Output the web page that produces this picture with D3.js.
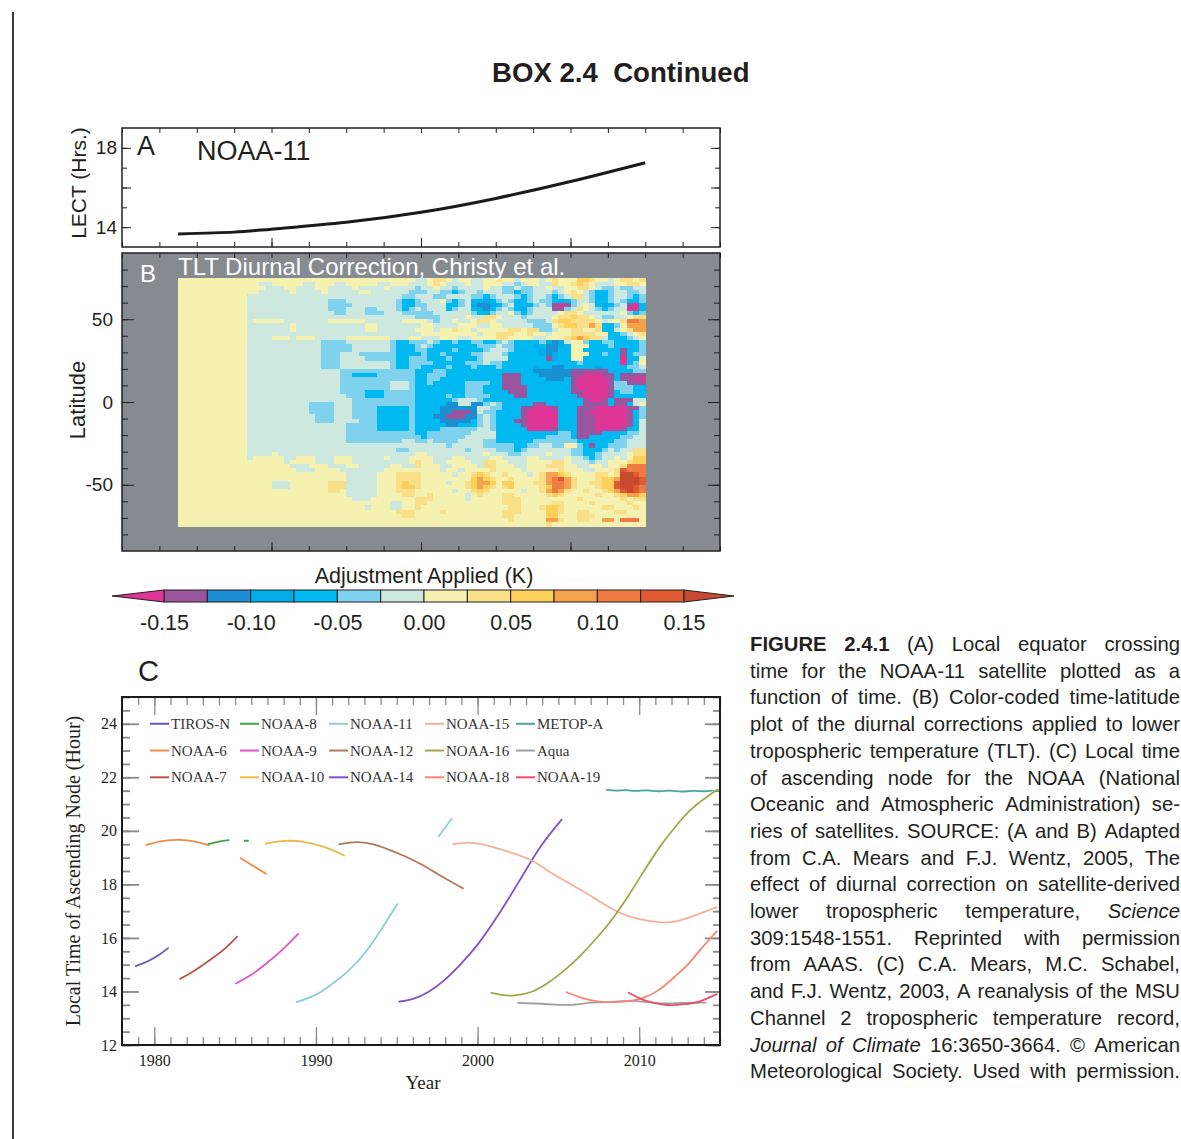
<!DOCTYPE html>
<html>
<head>
<meta charset="utf-8">
<script src="https://cdn.jsdelivr.net/npm/d3@7"></script>
<style>
  body { margin: 0; background: #fff; }
  svg { display: block; }
</style>
</head>
<body>
<svg id="fig" width="1181" height="1139"></svg>
<script>
// ---------------- Panel A: local equator crossing time of NOAA-11 ----------------
const lectYear = [1988.75, 1989.5, 1990.0, 1991.0, 1992.0, 1993.0, 1994.0, 1995.0];
const lectHour = [13.66, 13.75, 13.9, 14.25, 14.75, 15.45, 16.3, 17.25];
const lectTickLabels = [14, 18];

// ---------------- Panel B: TLT diurnal adjustment, month x 2.5 deg latitude ----------------
const latTickLabels = [-50, 0, 50];
const adjBreaks = [-0.15, -0.125, -0.10, -0.075, -0.05, -0.025, 0, 0.025, 0.05, 0.075, 0.10, 0.125, 0.15];
const adjCodes = "abcdefghijklmn";          // a: below -0.15 ... n: above 0.15
const adjColors = ["#de3597", "#9a559f", "#1a8fd2", "#00aeea", "#00b9f0", "#7ed2ee", "#cde8df",
                   "#f5f1b1", "#f8df88", "#fdd05a", "#f6a14b", "#ef7a44", "#e05a31", "#c8492f"];
const adjTickValues = [-0.15, -0.10, -0.05, 0, 0.05, 0.10, 0.15];
const adjTickLabels = ["-0.15", "-0.10", "-0.05", "0.00", "0.05", "0.10", "0.15"];
const tltFirstMonth = 1988.75;   // October 1988
const tltLatTop = 75;
const tltLatStep = 2.5;
// one row per latitude band (75N southwards), one character per month
const tltRows = [
 ["hhhhhhhhhhh","hhhhhhhhhhhhhhhhhhhhhhhhhhh","gghiihghhgghhihhghhhghihhhjjihhghiihi"],
 ["hhhhhhhhhhh","hhgghhhhhgghhhgghhhhhgghhhg","gghihggghgghhhggfghhggihhijihggghhiih"],
 ["hhhhhhhhhhh","hhhggghhggghhgggghgggghgggg","fgghggfgggghggffgffgghgghhiihgffgffgg"],
 ["hhhhhhhhhhh","hhggggghgggghggggghhggggggf","ffggffefggfgggffeffgggfghihgfeefggffg"],
 ["hhhhhhhhhhh","gggggggggggggggggggggggggff","gggffggggffefgggfefggfefgiigfeefggfef"],
 ["hhhhhhhhhhh","gggggggggggggfffggggggggfee","fggghfefgeedefgfeefgffedefggfeefgfeef"],
 ["hhhhhhhhhhh","gggggggggggggffffgggggggfee","ffgggeefgdccdefgeeefgfbabfghgedefgbae"],
 ["hhhhhhhhhhh","gggggggggggggfffgggffgggfef","gfgggefggedcefgfedfgggbbfgihgfefggaae"],
 ["hhhhhhhhhhh","ggggggggggggggffgggfffgggff","fffggggggfeefgghfefgggghiihgggggghfef"],
 ["hhhhhhhhhhh","ggggggggggggggggggggggggggg","ffffgggghggiihgggfgggghiijiihgffgghii"],
 ["hhhhhhhhhhh","ghhhhhggggggghhhhhhgggggghh","hhgfgghgghiihgggggfffgijjiiiihghhillk"],
 ["hhhhhhhhhhh","ggggggghggggggggggghhgggggg","ghhgggghhhgghhgggggfffhijjiikieefhkkk"],
 ["hhhhhhhhhhh","ggggggghggggggggggghhgggggg","hhhghhihhghhhhhiihiiffghhiihhieeghikk"],
 ["hhhhhhhhhhh","ggggggggggggggggggggggggggg","ghhhhhhhhhghhiiihhihhghhhiiiihheefghi"],
 ["hhhhhhhhhhh","gggghhhghhhggggghhhhhhhgggh","hggghhhgghhhhiihhhhgghhhijkjiigeeefgh"],
 ["hhhhhhhhhhh","ggggggggggggffffgggggggfeef","ffgfeefeeffeefgfeeeefdcdghhfeeffeeeef"],
 ["hhhhhhhhhhh","ggggggggggggfffffggggggfeee","fgfeeeeeeefffgffeeedeccdehhheeefeeeef"],
 ["hhhhhhhhhhh","ggggggggggggfffffggggggfeee","ffeeeefeeeefgggfeeeedcceehheeeeeebeef"],
 ["hhhhhhhhhhh","ggggggggggggfffgggffffffeee","efeefeeeeffgggfeeeeedcdeehhheefeebeff"],
 ["hhhhhhhhhhh","ggggggggggggfffggggfffffeef","ffeeefeeeefggggeeeeeebdeehheeeeeeaeeh"],
 ["hhhhhhhhhhh","ggggggggggggfffggggggggfeef","fffeeeeefffgffeeeeeeeeeeeefeeeeeeaefh"],
 ["hhhhhhhhhhh","ggggggggggggfffggggggggfeef","feeeefeeefeeefeeeeedeecceeeeedeeeeffg"],
 ["hhhhhhhhhhh","gggggggggggggggffffffffffff","eeeffeeeeeeeeeeeeeeccccccbbbbbbeeeeff"],
 ["hhhhhhhhhhh","gggggggggggggggffeeeeffffff","eefffeeeeeeeeebbbeeecccccbbaaabbebbbb"],
 ["hhhhhhhhhhh","gggggggggggggggffffffffffff","eeffeeeeeeeeeebbbeeeecccebaaaaabebbaa"],
 ["hhhhhhhhhhh","gggggggggggggggffffffffgggf","eefeeeeeffffeebbbeeeeeeeebaaaaabffbbb"],
 ["hhhhhhhhhhh","gggggggggggggggffffffffgggf","eeeeeeeefffeeebbbbeeeeeeebaaaaabfffee"],
 ["hhhhhhhhhhh","gggggggggggggggffffeeefffff","eeeeeeeefffeeeebbbeeeeeeebbaaaabeffee"],
 ["hhhhhhhhhhh","ggggggggggggggggfffeeefffff","eeeeefeeffffeeeebbeeeeeeeebaaaabeeeee"],
 ["hhhhhhhhhhh","gggggggggggggggggffffffffff","eeeeeefgggfeeeeeeeeeeeeeeeebaabebbbgg"],
 ["hhhhhhhhhhh","ggggggggggffffgggffffffffff","eeeeeccggccfgfeeeeebbeeeeeebbbbebbegh"],
 ["hhhhhhhhhhh","ggggggggggffffgggffffeeeeef","eeeeccccccggffeeebbaaabeeebbbaaaaabbf"],
 ["hhhhhhhhhhh","ggggggggggffffgggffffeeeeef","eeeeccbbbcgffeeeebaaaaaeeebbaaaaaabef"],
 ["hhhhhhhhhhh","gggggggggggfffgggffffeeeeef","eeeccbbbccfgfeeeebaaaaaeeebbbaaaaabef"],
 ["hhhhhhhhhhh","gggggggggggfffggggfffeeeeef","eeeecccccefgfeeebbaaaaaeeebbbaaaaabeg"],
 ["hhhhhhhhhhh","ggggggggggggggggfffffeeeeef","eeeeecceeefgfeeeebaaaaaeeebbbaaaaabeg"],
 ["hhhhhhhhhhh","ggggggggggggggggfffffeeeeef","eeeeffffffggfeeeeeaaaabeeebbbaaaabeeg"],
 ["hhhhhhhhhhh","ggggggggggggggggfffffffffff","eefffffffggggeeeeeeeeeeffebbbbeeeeffg"],
 ["hhhhhhhhhhh","ggggggggggggggggfffffffffff","feffffffgggggeeeeeeeeffffebbeeeeeffgg"],
 ["hhhhhhhhhhh","ggggggggggggggggfffffffffgg","ffgffffggggffeeeeeefffffffeeeeeeffggg"],
 ["hhhhhhhhhhh","ggggggggggggggggggggggggggg","gggggfgggggfffffeeffggffhhfebeefffggg"],
 ["hhhhhhhhhhh","ggggggggggggggggggggggggffg","ggggggggfggggfffefgggggggffeeefgfggii"],
 ["hhhhhhhhhhh","gggghgggggggggggggggggggggg","hhggggggggghgggffgggghgggffeefgggghii"],
 ["hhhhhhhhhhh","ghhhhhgghhhggghhhggggghgggh","hhhggghhgggghhgggghhgggghggfefgghghjj"],
 ["hhhhhhhhhhh","hhhhhhghhhhggghhhgggggggggh","ihhgghhhhggiihhggghhhhiihgggfgghhhijj"],
 ["hhhhhhhhhhh","hhhhhhhggghhhggghhggggghhgg","ihhhgghhhhgiihhhgghhhiiihhgghhghhilll"],
 ["hhhhhhhhhhh","hhhhhhhhggghhhhggggggghhhhh","hhhhghhghhhhihhhhghhhhhihhhgghhhimlll"],
 ["hhhhhhhhhhh","hhhhhhhhhhhhhhhhggggghhhiii","ihhhhhghhijihhihhhghikkjihhhhiihinnml"],
 ["hhhhhhhhhhh","hhhhhhhhhhhhhhhhggggghhhiii","ihhhhhhhhjkjihhihhhhiklmkihhhijjknnnm"],
 ["hhhhhhhhhhh","hhhhggghhhhhhiiiggggghhhiji","ihhhhghhijkkjhjjhhhiikllkihhiijjmnnnm"],
 ["hhhhhhhhhhh","hhhhggghhhhhhiiiggggghhhijj","ihhhhhhhijkjihijhhhhijllkihhhijjmnnml"],
 ["hhhhhhhhhhh","hhhhhhhhhhhhhiihggggghhhiii","hhhhhhghhijihhhhhghhiklkihhihhijkmnml"],
 ["hhhhhhhhhhh","hhhhhhhhhhhhhhhhggggghhhhii","hhihhhhhghihhhiihhhhhijihhhhhihhijkkj"],
 ["hhhhhhhhhhh","hhhhhhhhhhhhhhhhhggghhhhhhh","iiihhhhhghhhhhiiihhhhhhhhhihhhhhhihii"],
 ["hhhhhhhhhhh","hhhhhhhhhhhhhhhhhhhhhhhgghh","iihhhhhhhhhhhhiiihhhhhiihhhhihhhhhihh"],
 ["hhhhhhhhhhh","hhhhhhhhhhhhhhhhhhhghhhgghh","ihhhhhhhhhhhhhhiihhhijjihhhhhhiihhhih"],
 ["hhhhhhhhhhh","hhhhhhhhhhhhhhhhhhhhhhhhiii","hhhhihhhhhhhhhiiihhhhjjihhiihhhhiihhh"],
 ["hhhhhhhhhhh","hhhhhhhhhhhhhhhhhhhhhhhhhii","hhhhhhhhhhhhhhiihhhhhjjhhhiiihhhhhhhh"],
 ["hhhhhhhhhhh","hhhhhhhhhhhhhhhhhhhhhhhhhhh","hhhhhhhhhhhhhhhihhhhhkkihhiihhkkhlllh"],
 ["hhhhhhhhhhh","hhhhhhhhhhhhhhhhhhhhhhhhhhh","hhhhhhhhhhhhhhhhhhhhhihhhhhhhhhhhhhhh"]
];

// ---------------- Panel C: local time of ascending node (year, hour) ----------------
const tirosN  = [[1978.85,14.95],[1979.5,15.1],[1980.2,15.33],[1980.85,15.62]];
const noaa6a  = [[1979.5,19.48],[1980.5,19.62],[1981.6,19.66],[1982.5,19.6],[1983.35,19.47]];
const noaa6b  = [[1985.35,18.98],[1986.1,18.7],[1986.9,18.4]];
const noaa7   = [[1981.6,14.47],[1982.5,14.78],[1983.5,15.2],[1984.4,15.62],[1985.12,16.05]];
const noaa8a  = [[1983.35,19.5],[1984.0,19.6],[1984.6,19.65]];
const noaa8b  = [[1985.6,19.63],[1985.8,19.63]];
const noaa9   = [[1985.05,14.3],[1986.0,14.62],[1987.0,15.08],[1988.0,15.6],[1988.9,16.15]];
const noaa10  = [[1986.9,19.52],[1987.6,19.6],[1988.4,19.63],[1989.3,19.58],[1990.5,19.4],[1991.75,19.08]];
const noaa11a = [[1988.8,13.6],[1990.0,13.88],[1991.0,14.28],[1992.0,14.77],[1993.0,15.42],[1994.0,16.28],[1995.05,17.27]];
const noaa11b = [[1997.6,19.8],[1998.4,20.45]];
const noaa12  = [[1991.45,19.5],[1992.5,19.58],[1993.5,19.5],[1994.5,19.3],[1995.5,19.05],[1996.5,18.75],[1997.5,18.4],[1998.5,18.05],[1999.1,17.85]];
const noaa14  = [[1995.15,13.62],[1996.0,13.72],[1997.0,14.0],[1998.0,14.45],[1999.0,15.05],[2000.0,15.75],[2001.0,16.6],[2002.0,17.55],[2003.0,18.55],[2004.0,19.5],[2005.2,20.42]];
const noaa15  = [[1998.5,19.5],[1999.4,19.56],[2000.5,19.47],[2001.5,19.3],[2002.5,19.1],[2003.4,18.88],[2004.5,18.45],[2005.5,18.1],[2006.5,17.75],[2007.5,17.38],[2008.7,16.97],[2010.0,16.7],[2011.4,16.58],[2012.5,16.65],[2013.5,16.85],[2014.8,17.15]];
const noaa16  = [[2000.85,13.95],[2001.6,13.86],[2002.3,13.85],[2003.3,13.98],[2004.3,14.3],[2005.3,14.75],[2006.3,15.3],[2007.3,15.95],[2008.3,16.68],[2009.3,17.55],[2010.3,18.5],[2011.3,19.42],[2012.3,20.2],[2013.3,20.85],[2014.85,21.55]];
const metopA  = [[2008.0,21.53],[2008.6,21.5],[2009.2,21.52],[2009.8,21.49],[2010.5,21.51],[2011.2,21.48],[2011.9,21.5],[2012.6,21.47],[2013.3,21.49],[2014.0,21.48],[2014.5,21.5]];
const aqua    = [[2002.5,13.57],[2003.5,13.55],[2004.5,13.52],[2005.8,13.5],[2007.0,13.58],[2008.0,13.6],[2009.3,13.65],[2010.5,13.6],[2011.5,13.55],[2012.7,13.57],[2014.1,13.58]];
const noaa18  = [[2005.5,13.97],[2006.5,13.75],[2007.5,13.62],[2008.3,13.6],[2009.2,13.63],[2010.2,13.75],[2011.2,14.05],[2012.2,14.55],[2013.0,15.0],[2013.7,15.5],[2014.8,16.25]];
const noaa19  = [[2009.35,13.95],[2010.0,13.75],[2010.6,13.62],[2011.4,13.52],[2012.1,13.49],[2012.9,13.53],[2013.7,13.62],[2014.8,13.9]];

const legendNames = ["TIROS-N","NOAA-6","NOAA-7","NOAA-8","NOAA-9","NOAA-10","NOAA-11","NOAA-12",
                     "NOAA-14","NOAA-15","NOAA-16","NOAA-18","METOP-A","Aqua","NOAA-19"];
const yearTickLabels = [1980, 1990, 2000, 2010];
const hourTickLabels = [12, 14, 16, 18, 20, 22, 24];

// ---------------- caption ----------------
const captionLines = [
  [["FIGURE 2.4.1","b"],["(A) Local equator crossing",""]],
  [["time for the NOAA-11 satellite plotted as a",""]],
  [["function of time. (B) Color-coded time-latitude",""]],
  [["plot of the diurnal corrections applied to lower",""]],
  [["tropospheric temperature (TLT). (C) Local time",""]],
  [["of ascending node for the NOAA (National",""]],
  [["Oceanic and Atmospheric Administration) se-",""]],
  [["ries of satellites. SOURCE: (A and B) Adapted",""]],
  [["from C.A. Mears and F.J. Wentz, 2005, The",""]],
  [["effect of diurnal correction on satellite-derived",""]],
  [["lower tropospheric temperature,",""],["Science","i"]],
  [["309:1548-1551. Reprinted with permission",""]],
  [["from AAAS. (C) C.A. Mears, M.C. Schabel,",""]],
  [["and F.J. Wentz, 2003, A reanalysis of the MSU",""]],
  [["Channel 2 tropospheric temperature record,",""]],
  [["Journal of Climate","i"],["16:3650-3664. © American",""]],
  [["Meteorological Society. Used with permission.",""]]
];

// ============================== drawing ==============================
const sans = "'Liberation Sans', Arial, Helvetica, sans-serif";
const serif = "'Liberation Serif', 'Times New Roman', Times, serif";
const ink = "#231f20";
const svg = d3.select("#fig");

const satColor = {
  "TIROS-N": "#5b5bbf", "NOAA-6": "#ef8a4c", "NOAA-7": "#b5554d", "NOAA-8": "#3fa34a",
  "NOAA-9": "#e055c3", "NOAA-10": "#ecb94a", "NOAA-11": "#8ecfcf", "NOAA-12": "#b07a5a",
  "NOAA-14": "#8052c8", "NOAA-15": "#f6b09a", "NOAA-16": "#a0a84c", "NOAA-18": "#f48672",
  "METOP-A": "#4aa3a8", "Aqua": "#a0a0a0", "NOAA-19": "#ea4f6a"
};
const tracks = [
  ["TIROS-N", tirosN], ["NOAA-6", noaa6a], ["NOAA-6", noaa6b], ["NOAA-7", noaa7],
  ["NOAA-8", noaa8a], ["NOAA-8", noaa8b], ["NOAA-9", noaa9], ["NOAA-10", noaa10],
  ["NOAA-11", noaa11a], ["NOAA-11", noaa11b], ["NOAA-12", noaa12], ["NOAA-14", noaa14],
  ["NOAA-15", noaa15], ["NOAA-16", noaa16], ["METOP-A", metopA], ["Aqua", aqua],
  ["NOAA-18", noaa18], ["NOAA-19", noaa19]
];

// inward tick marks along one side of a panel frame
function tickSide(g, axisFn, scale, values, len, tx, ty, color, width) {
  const s = g.append("g")
    .attr("transform", `translate(${tx},${ty})`)
    .call(axisFn(scale).tickValues(values).tickSize(-len).tickFormat(""));
  s.select(".domain").remove();
  s.selectAll("line").attr("stroke", color).attr("stroke-width", width);
  return s;
}
function labelSide(g, axisFn, scale, values, fmt, pad, tx, ty, font, size) {
  const s = g.append("g")
    .attr("transform", `translate(${tx},${ty})`)
    .call(axisFn(scale).tickValues(values).tickSize(0).tickPadding(pad).tickFormat(fmt));
  s.select(".domain").remove();
  s.selectAll("text").attr("font-family", font).attr("font-size", size).attr("fill", ink);
  return s;
}

// page rule and heading
svg.append("line").attr("x1", 13).attr("x2", 13).attr("y1", 12).attr("y2", 1139)
  .attr("stroke", "#3a3a3a").attr("stroke-width", 2);
svg.append("text").attr("x", 492).attr("y", 82)
  .attr("font-family", sans).attr("font-weight", "bold").attr("font-size", 27.6)
  .attr("fill", ink).style("white-space", "pre").text("BOX 2.4  Continued");

// shared time axis for panels A and B
const xT = d3.scaleLinear().domain([1988, 1996]).range([122, 720]);
const halfYears = d3.range(1988, 1996.01, 0.5);
const evenYears = [1990, 1992, 1994];

// ---- Panel A ----
const yA = d3.scaleLinear().domain([13, 19]).range([247, 128]);
const gA = svg.append("g");
gA.append("path")
  .datum(d3.zip(lectYear, lectHour))
  .attr("d", d3.line().x(d => xT(d[0])).y(d => yA(d[1])).curve(d3.curveNatural))
  .attr("fill", "none").attr("stroke", "#1a1a1a").attr("stroke-width", 3);
gA.append("rect").attr("x", 122).attr("y", 128).attr("width", 598).attr("height", 119)
  .attr("fill", "none").attr("stroke", ink).attr("stroke-width", 1.5);
tickSide(gA, d3.axisBottom, xT, halfYears, 5, 0, 247, ink, 1);
tickSide(gA, d3.axisBottom, xT, evenYears, 9, 0, 247, ink, 1);
tickSide(gA, d3.axisTop, xT, halfYears, 5, 0, 128, ink, 1);
tickSide(gA, d3.axisLeft, yA, [14, 15, 16, 17, 18], 5, 122, 0, ink, 1);
tickSide(gA, d3.axisLeft, yA, [14, 16, 18], 9, 122, 0, ink, 1);
tickSide(gA, d3.axisRight, yA, [14, 15, 16, 17, 18], 5, 720, 0, ink, 1);
tickSide(gA, d3.axisRight, yA, [14, 16, 18], 9, 720, 0, ink, 1);
labelSide(gA, d3.axisLeft, yA, lectTickLabels, d => d, 5, 122, 0, sans, 19);
gA.append("text").attr("x", 137).attr("y", 155).attr("font-family", sans)
  .attr("font-size", 27).attr("fill", ink).text("A");
gA.append("text").attr("x", 197).attr("y", 160).attr("font-family", sans)
  .attr("font-size", 27).attr("fill", ink).text("NOAA-11");
gA.append("text").attr("transform", "translate(86,183) rotate(-90)")
  .attr("text-anchor", "middle").attr("font-family", sans).attr("font-size", 21)
  .attr("fill", ink).text("LECT (Hrs.)");

// ---- Panel B ----
const yB = d3.scaleLinear().domain([-90, 90]).range([551, 253]);
const gB = svg.append("g");
gB.append("rect").attr("x", 122).attr("y", 253).attr("width", 598).attr("height", 298)
  .attr("fill", "#868b92");
const cells = [];
tltRows.forEach((parts, r) => {
  const row = parts.join("").padEnd(75, "h").slice(0, 75);
  for (let c = 0; c < row.length; c++) cells.push({ r, c, k: row[c] });
});
gB.append("g").attr("shape-rendering", "crispEdges")
  .selectAll("rect").data(cells).join("rect")
  .attr("x", d => xT(tltFirstMonth + d.c / 12))
  .attr("width", d => xT(tltFirstMonth + (d.c + 1) / 12) - xT(tltFirstMonth + d.c / 12) + 0.5)
  .attr("y", d => yB(tltLatTop - d.r * tltLatStep))
  .attr("height", d => yB(tltLatTop - (d.r + 1) * tltLatStep) - yB(tltLatTop - d.r * tltLatStep) + 0.5)
  .attr("fill", d => adjColors[Math.max(0, adjCodes.indexOf(d.k))]);
gB.append("rect").attr("x", 122).attr("y", 253).attr("width", 598).attr("height", 298)
  .attr("fill", "none").attr("stroke", ink).attr("stroke-width", 1.5);
const latMinor = d3.range(-80, 81, 10);
tickSide(gB, d3.axisLeft, yB, latMinor, 6, 122, 0, ink, 1);
tickSide(gB, d3.axisLeft, yB, latTickLabels, 12, 122, 0, ink, 1);
tickSide(gB, d3.axisRight, yB, latMinor, 6, 720, 0, ink, 1);
tickSide(gB, d3.axisRight, yB, latTickLabels, 12, 720, 0, ink, 1);
tickSide(gB, d3.axisBottom, xT, halfYears, 5, 0, 551, ink, 1);
tickSide(gB, d3.axisBottom, xT, evenYears, 9, 0, 551, ink, 1);
tickSide(gB, d3.axisTop, xT, halfYears, 5, 0, 253, ink, 1);
labelSide(gB, d3.axisLeft, yB, latTickLabels, d => d, 9, 122, 0, sans, 19);
gB.append("text").attr("x", 140).attr("y", 282).attr("font-family", sans)
  .attr("font-size", 24).attr("fill", "#ffffff").text("B");
gB.append("text").attr("x", 178).attr("y", 275).attr("font-family", sans)
  .attr("font-size", 24).attr("fill", "#ffffff").text("TLT Diurnal Correction, Christy et al.");
gB.append("text").attr("transform", "translate(85,400) rotate(-90)")
  .attr("text-anchor", "middle").attr("font-family", sans).attr("font-size", 22)
  .attr("fill", ink).text("Latitude");

// ---- colour bar ----
const cbX = d3.scaleLinear().domain([-0.15, 0.15]).range([164, 684]);
const cbTop = 590, cbBot = 602, cbMid = (cbTop + cbBot) / 2;
const gCB = svg.append("g");
gCB.selectAll("rect").data(d3.range(1, 13)).join("rect")
  .attr("x", i => cbX(adjBreaks[i - 1])).attr("y", cbTop)
  .attr("width", i => cbX(adjBreaks[i]) - cbX(adjBreaks[i - 1])).attr("height", cbBot - cbTop)
  .attr("fill", i => adjColors[i]).attr("stroke", ink).attr("stroke-width", 1);
gCB.append("path")
  .attr("d", `M${cbX(-0.15)},${cbTop}L112,${cbMid}L${cbX(-0.15)},${cbBot}Z`)
  .attr("fill", adjColors[0]).attr("stroke", ink).attr("stroke-width", 1);
gCB.append("path")
  .attr("d", `M${cbX(0.15)},${cbTop}L734,${cbMid}L${cbX(0.15)},${cbBot}Z`)
  .attr("fill", adjColors[13]).attr("stroke", ink).attr("stroke-width", 1);
labelSide(gCB, d3.axisBottom, cbX, adjTickValues, (d, i) => adjTickLabels[i], 12.5, 0, cbBot, sans, 21.5);
gCB.append("text").attr("x", 424).attr("y", 583).attr("text-anchor", "middle")
  .attr("font-family", sans).attr("font-size", 21.5).attr("fill", ink).text("Adjustment Applied (K)");

// ---- Panel C ----
const xC = d3.scaleLinear().domain([1978, 2015]).range([122, 720]);
const yC = d3.scaleLinear().domain([12, 25]).range([1045, 697]);
const gC = svg.append("g");
svg.append("text").attr("x", 138).attr("y", 681).attr("font-family", sans)
  .attr("font-size", 29).attr("fill", ink).text("C");

const tickGrey = "#8a8a8a";
const allYears = d3.range(1978, 2016);
const decades = [1980, 1990, 2000, 2010];
const halfHours = d3.range(12, 25.01, 0.5);
const twoHours = d3.range(12, 25, 2);
tickSide(gC, d3.axisBottom, xC, allYears, 8, 0, 1045, tickGrey, 1.3);
tickSide(gC, d3.axisBottom, xC, decades, 18, 0, 1045, tickGrey, 1.3);
tickSide(gC, d3.axisTop, xC, allYears, 8, 0, 697, tickGrey, 1.3);
tickSide(gC, d3.axisTop, xC, decades, 18, 0, 697, tickGrey, 1.3);
tickSide(gC, d3.axisLeft, yC, halfHours, 8, 122, 0, tickGrey, 1.8);
tickSide(gC, d3.axisLeft, yC, twoHours, 17, 122, 0, tickGrey, 1.8);
tickSide(gC, d3.axisRight, yC, halfHours, 7, 720, 0, tickGrey, 1.8);
tickSide(gC, d3.axisRight, yC, twoHours, 15, 720, 0, tickGrey, 1.8);

const satLine = d3.line().x(d => xC(d[0])).y(d => yC(d[1])).curve(d3.curveNatural);
gC.append("g").selectAll("path").data(tracks).join("path")
  .attr("d", d => satLine(d[1]))
  .attr("fill", "none").attr("stroke", d => satColor[d[0]])
  .attr("stroke-width", 1.8).attr("stroke-linecap", "round");

gC.append("rect").attr("x", 122).attr("y", 697).attr("width", 598).attr("height", 348)
  .attr("fill", "none").attr("stroke", "#1a1a1a").attr("stroke-width", 2);
labelSide(gC, d3.axisLeft, yC, hourTickLabels, d => d, 5, 122, 0, serif, 16);
labelSide(gC, d3.axisBottom, xC, yearTickLabels, d => d, 9.5, 0, 1045, serif, 16);
gC.append("text").attr("x", 423).attr("y", 1089).attr("text-anchor", "middle")
  .attr("font-family", serif).attr("font-size", 19).attr("fill", ink).text("Year");
gC.append("text").attr("transform", "translate(80,871) rotate(-90)")
  .attr("text-anchor", "middle").attr("font-family", serif).attr("font-size", 20)
  .attr("fill", ink).text("Local Time of Ascending Node (Hour)");

// legend: five columns of three entries
const legendColX = [150, 240, 329, 425, 516];
const legendRowHour = [24, 23, 22];
const gL = gC.append("g");
legendNames.forEach((name, i) => {
  const lx = legendColX[Math.floor(i / 3)];
  const ly = yC(legendRowHour[i % 3]);
  gL.append("line").attr("x1", lx).attr("x2", lx + 19).attr("y1", ly).attr("y2", ly)
    .attr("stroke", satColor[name]).attr("stroke-width", 2);
  gL.append("text").attr("x", lx + 21).attr("y", ly).attr("dy", "0.34em")
    .attr("font-family", serif).attr("font-size", 15).attr("fill", "#333").text(name);
});

// ---- caption, set justified ----
const capX = 750, capW = 430, capY0 = 651, capLH = 26.7;
captionLines.forEach((runs, li) => {
  const t = svg.append("text").attr("y", capY0 + li * capLH)
    .attr("font-family", sans).attr("font-size", 20.3).attr("fill", ink);
  const words = [];
  runs.forEach(([txt, st]) => txt.split(" ").forEach(w => { if (w) words.push({ w, st }); }));
  const spans = words.map(o => t.append("tspan").text(o.w)
    .attr("font-weight", o.st === "b" ? "bold" : null)
    .attr("font-style", o.st === "i" ? "italic" : null));
  const widths = spans.map(s => s.node().getComputedTextLength());
  const gap = words.length > 1 ? (capW - d3.sum(widths)) / (words.length - 1) : 0;
  let x = capX;
  spans.forEach((s, i) => { s.attr("x", x); x += widths[i] + gap; });
});
</script>
</body>
</html>
